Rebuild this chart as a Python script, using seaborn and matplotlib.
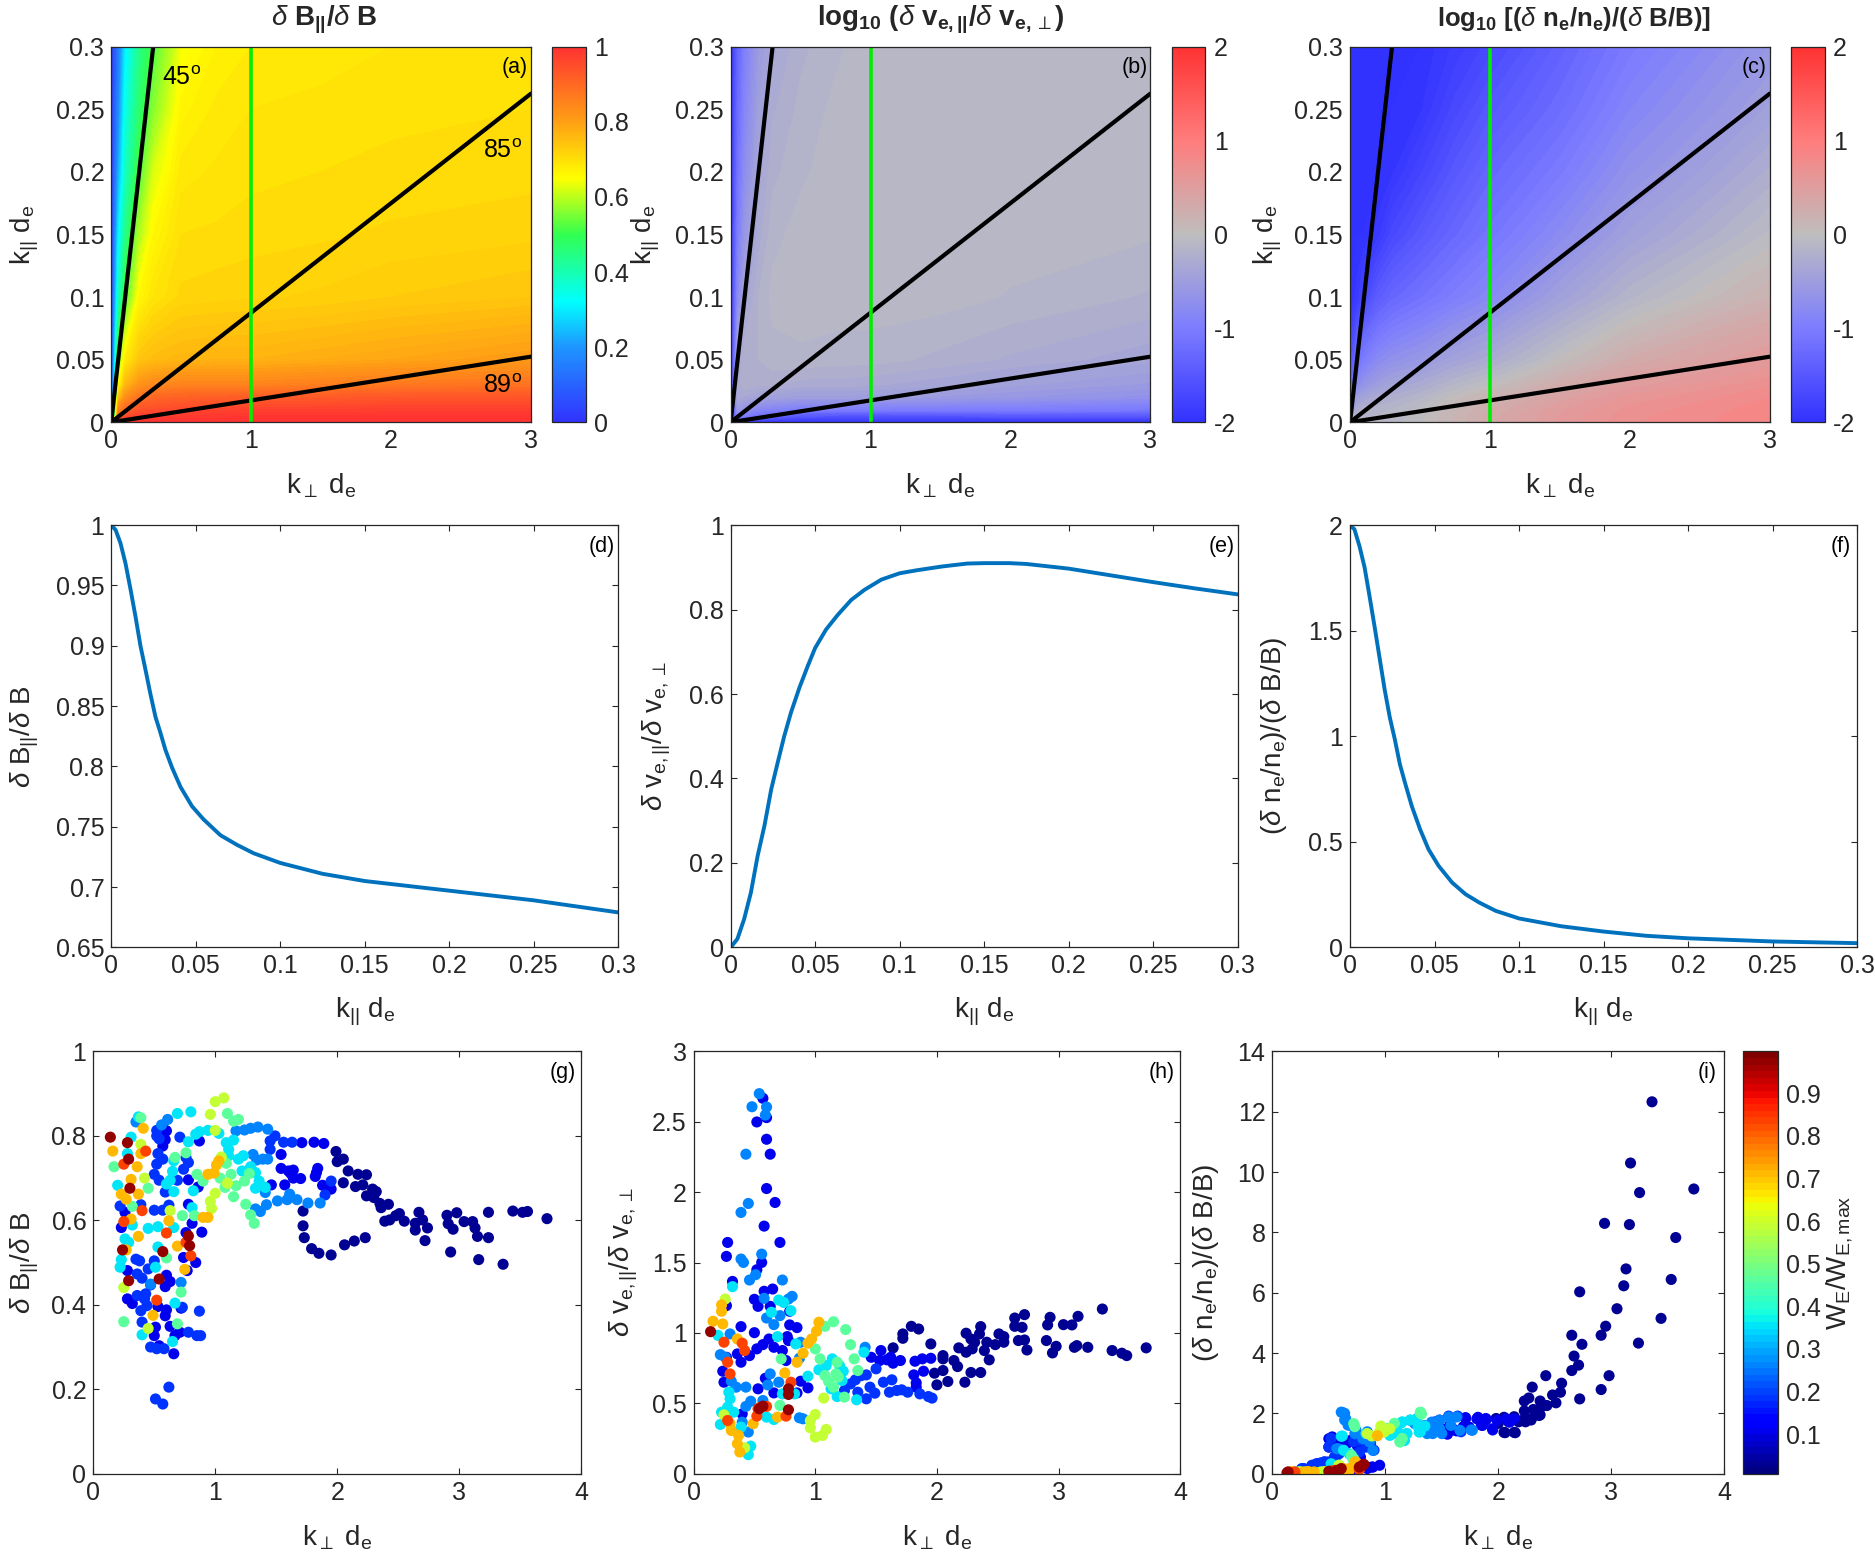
import numpy as np
import pandas as pd
import matplotlib
matplotlib.use("Agg")
import matplotlib.pyplot as plt
from matplotlib.colors import LinearSegmentedColormap, Normalize
from matplotlib.cm import ScalarMappable
import seaborn as sns

# ---------------- top row maps ---------------- #
kperp_grid = [0, .05, .1, .2, .3, .5, .75, 1, 1.5, 2, 3]
kpar_grid = [0, .005, .01, .02, .03, .05, .1, .15, .2, .25, .3]

dbpar_map = [
    [1, 1, 1, 1, 1, 1, 1, 1, 1, 1, 1],
    [.1, .90, .95, .97, .975, .98, .985, .99, .99, .99, .99],
    [.05, .85, .90, .94, .95, .96, .965, .97, .97, .975, .975],
    [.03, .74, .83, .88, .90, .91, .915, .92, .925, .93, .935],
    [.02, .65, .76, .82, .84, .85, .85, .85, .86, .87, .88],
    [.02, .55, .68, .74, .755, .765, .77, .77, .78, .79, .81],
    [.02, .38, .52, .66, .69, .713, .716, .718, .722, .73, .74],
    [.01, .30, .44, .59, .66, .70, .702, .705, .708, .712, .717],
    [.01, .22, .38, .52, .62, .685, .692, .697, .70, .703, .706],
    [.01, .17, .34, .47, .56, .665, .683, .69, .693, .697, .70],
    [.01, .14, .30, .44, .52, .64, .67, .68, .685, .69, .695],
]
dv_map = [
    [-2, -2, -2, -2, -2, -2, -2, -2, -2, -2, -2],
    [-2, -.9, -1.0, -1.2, -1.3, -1.5, -1.55, -1.6, -1.55, -1.5, -1.5],
    [-2, -.55, -.7, -.85, -.9, -1, -1, -1, -1, -1, -1.05],
    [-2, -.3, -.35, -.42, -.45, -.5, -.5, -.5, -.55, -.6, -.7],
    [-2, -.3, -.22, -.25, -.25, -.3, -.3, -.32, -.38, -.45, -.55],
    [-2, -.4, -.2, -.2, -.16, -.15, -.17, -.17, -.22, -.28, -.38],
    [-2, -.8, -.4, -.2, -.11, -.09, -.09, -.095, -.10, -.14, -.21],
    [-2, -1, -.6, -.3, -.16, -.10, -.09, -.09, -.09, -.10, -.125],
    [-2, -1.15, -.75, -.38, -.22, -.15, -.09, -.09, -.09, -.09, -.10],
    [-2, -1.25, -.87, -.47, -.28, -.18, -.115, -.09, -.09, -.09, -.09],
    [-2, -1.35, -.95, -.55, -.36, -.22, -.15, -.09, -.09, -.09, -.09],
]
dn_map = [
    [-.1, -.12, -.12, -.12, -.1, -.02, .15, .3, .55, .72, .85],
    [-.3, -.15, -.14, -.13, -.11, -.03, .14, .3, .54, .71, .85],
    [-.6, -.25, -.2, -.16, -.13, -.05, .13, .27, .52, .69, .84],
    [-1.0, -.5, -.4, -.3, -.25, -.15, .03, .16, .42, .62, .80],
    [-1.3, -.8, -.65, -.5, -.4, -.3, -.13, 0, .28, .5, .72],
    [-1.6, -1.2, -1.0, -.8, -.7, -.6, -.42, -.3, .02, .28, .55],
    [-2, -1.9, -1.7, -1.45, -1.3, -1.15, -.97, -.82, -.45, -.15, .2],
    [-2, -2, -2, -1.9, -1.7, -1.5, -1.28, -1.1, -.78, -.45, -.05],
    [-2, -2, -2, -2, -1.95, -1.75, -1.5, -1.3, -1.02, -.68, -.25],
    [-2, -2, -2, -2, -2, -1.95, -1.7, -1.5, -1.22, -.87, -.45],
    [-2, -2, -2, -2, -2, -2, -1.85, -1.7, -1.37, -1.03, -.6],
]

# guide lines on the maps: propagation angle in degrees and the k_perp cut
angles = [45, 85, 89]
cut_kperp = 1

# ---------------- middle row cuts at k_perp d_e = 1 ---------------- #
d_k = [0, .0026, .0055, .0085, .0114, .0144, .0173, .0203, .0232, .0262, .0291, .032, .036, .041, .0478, .0547, .0646,
       .0744, .0843, .1, .125, .15, .175, .2, .225, .25, .275, .3]
d_val = [1, .996, .985, .968, .947, .924, .90, .88, .86, .841, .828, .814, .799, .783, .767, .756, .743,
         .735, .728, .72, .711, .705, .701, .697, .693, .689, .684, .679]
e_k = [0, .004, .008, .012, .016, .02, .024, .0278, .0317, .0357, .0407, .0456, .05, .0565, .0635, .0714, .0793, .0892,
       .1, .11, .125, .14, .15, .165, .175, .2, .225, .25, .275, .3]
e_val = [0, .02, .067, .13, .217, .288, .374, .437, .50, .556, .615, .666, .709, .753, .788, .823, .847, .871,
         .886, .893, .902, .909, .91, .91, .908, .897, .881, .865, .85, .836]
f_k = [0, .0026, .0056, .0086, .0116, .0145, .0175, .0205, .0235, .0265, .0295, .0325, .0365, .0414, .0464, .0524, .0604,
       .0683, .0763, .0862, .1, .125, .15, .175, .2, .25, .3]
f_val = [2, 1.98, 1.90, 1.8, 1.66, 1.52, 1.37, 1.22, 1.09, .985, .867, .78, .67, .56, .465, .386, .307,
         .252, .213, .173, .137, .10, .075, .055, .043, .028, .02]

# ---------------- bottom row scatter, (k_perp d_e, value) per W band ---------------- #
w_bands = [.03, .11, .19, .27, .36, .47, .59, .71, .84, .97]

g_navy = [(3.72, .604), (3.56, .621), (3.52, .619), (3.44, .622), (3.24, .619), (3.24, .559), (3.36, .496), (3.16, .507),
          (3.15, .562), (3.13, .582), (3.11, .597), (3.04, .597), (2.98, .618), (2.90, .612), (2.91, .592), (2.95, .579),
          (2.93, .525), (2.72, .552), (2.74, .582), (2.70, .601), (2.67, .619), (2.64, .593), (2.64, .577), (2.55, .598),
          (2.51, .616), (2.48, .611), (2.43, .601), (2.39, .598), (2.42, .638), (2.36, .630), (2.35, .640), (2.32, .668),
          (2.29, .674), (2.30, .654), (2.24, .658), (2.24, .708), (2.17, .709), (2.21, .684), (2.15, .680), (2.05, .689),
          (2.09, .717), (2.05, .745), (2.0, .739), (1.99, .763), (2.23, .559), (2.14, .551), (2.06, .542), (1.95, .518),
          (1.85, .522), (1.79, .533), (1.73, .559), (1.72, .587), (1.72, .622)]
g_deep = [(1.89, .782), (1.81, .785), (1.71, .784), (1.95, .674), (1.88, .683), (1.84, .723), (1.83, .713), (1.82, .704),
          (1.70, .699), (1.64, .700), (1.62, .711), (1.64, .719), (1.60, .717), (1.54, .723), (1.54, .756), (1.57, .684),
          (1.46, .684), (.59, .813), (.60, .812), (.59, .791), (.57, .776), (.87, .788), (.78, .696), (.86, .679),
          (.78, .638), (.89, .572), (.84, .5), (.77, .481), (.60, .47), (.63, .455), (.59, .443), (.28, .414), (.32, .403),
          (.53, .396), (.60, .388), (.59, .374), (.72, .392), (.63, .349), (.51, .347), (.67, .327), (.71, .335), (.50, .327),
          (.54, .303), (.66, .284), (.23, .583), (.26, .619), (.28, .481), (.76, .571), (.74, .512), (.81, .593)]
g_blue = [(1.95, .693), (1.63, .785), (1.56, .785), (1.90, .66), (1.49, .8), (1.45, .768), (1.45, .788), (.22, .634),
          (.39, .637), (.50, .624), (.57, .624), (.35, .508), (.38, .504), (.45, .485), (.50, .504), (.36, .473), (.40, .463),
          (.47, .447), (.43, .426), (.36, .422), (.42, .414), (.44, .398), (.39, .386), (.40, .359), (.47, .30), (.52, .296),
          (.58, .296), (.51, .177), (.57, .165), (.62, .205), (.87, .385), (.88, .327), (.85, .327), (.78, .335), (.73, .394),
          (.62, .636), (.71, .797), (.52, .813), (.52, .8), (.54, .793), (.53, .758), (.57, .745), (.52, .733), (.50, .709),
          (.54, .695), (.59, .667), (.69, .695), (.74, .721), (.76, .749), (.78, .737)]
g_light = [(1.86, .641), (1.76, .641), (1.67, .649), (1.61, .662), (1.59, .649), (1.51, .646), (1.42, .637), (1.37, .621),
           (1.33, .627), (1.41, .666), (1.43, .745), (1.39, .745), (1.34, .743), (1.31, .756), (1.43, .816), (1.35, .821),
           (1.29, .818), (1.24, .814), (1.17, .812), (.56, .826), (.61, .839), (.72, .453), (.47, .449), (.35, .833)]
g_cyan = [(1.41, .678), (1.33, .676), (1.36, .693), (1.33, .713), (1.29, .727), (1.22, .717), (1.19, .745), (1.23, .753),
          (1.15, .79), (1.09, .784), (1.11, .768), (1.11, .753), (1.03, .806), (.94, .813), (.87, .81), (.84, .804),
          (.78, .786), (.80, .857), (.69, .853), (.20, .683), (.28, .758), (.31, .797), (.37, .845), (.26, .556), (.29, .548),
          (.32, .589), (.23, .507), (.22, .489), (.40, .329), (.65, .313), (.67, .404), (.51, .489), (.53, .537), (.45, .581),
          (.53, .585), (.66, .583), (.81, .63), (.82, .67), (.66, .741), (.65, .716), (.60, .686), (.63, .695), (.66, .668)]
g_green = [(1.10, .853), (1.15, .835), (1.19, .839), (1.32, .593), (1.29, .613), (1.25, .638), (1.15, .656), (1.08, .678),
           (1.17, .682), (1.24, .693), (1.28, .711), (1.13, .709), (1.09, .735), (1.04, .7), (.85, .709), (.90, .693),
           (.17, .727), (.25, .36), (.72, .43), (.39, .843), (.45, .676), (.32, .633), (.73, .611), (.83, .611), (.60, .511),
           (.69, .355), (.76, .76), (.67, .749)]
g_yellow = [(1.07, .89), (1.0, .881), (.96, .851), (1.0, .664), (.96, .645), (.97, .628), (1.05, .75), (1.10, .688),
            (1.0, .813), (.39, .78), (.42, .7), (.63, .623), (.25, .441), (.45, .344)]
g_orange = [(.94, .709), (.99, .712), (1.01, .731), (1.03, .741), (.94, .607), (.90, .607), (.36, .727), (.37, .662),
            (.37, .562), (.39, .758), (.41, .818), (.27, .53), (.49, .375), (.69, .539), (.75, .484), (.16, .764), (.23, .662),
            (.27, .65), (.31, .697), (.31, .603), (.62, .599)]
g_red = [(.80, .516), (.76, .548), (.60, .57), (.52, .411), (.40, .623), (.25, .597), (.25, .733), (.43, .764)]
g_dark = [(.14, .797), (.30, .676), (.24, .53), (.57, .526), (.78, .563), (.79, .54), (.54, .461), (.29, .457), (.29, .745),
          (.28, .784)]

h_navy = [(3.72, .894), (3.56, .839), (3.52, .856), (3.44, .875), (3.36, 1.17), (3.24, .898), (3.16, 1.118), (3.15, .91),
          (3.13, .898), (3.11, 1.057), (3.04, 1.059), (2.98, .905), (2.95, .858), (2.93, 1.111), (2.91, 1.057), (2.90, .946),
          (2.74, .879), (2.72, 1.13), (2.72, .95), (2.70, 1.04), (2.67, .946), (2.64, 1.106), (2.64, 1.047), (2.55, .934),
          (2.55, .974), (2.51, .993), (2.48, .917), (2.43, .809), (2.41, .934), (2.39, .875), (2.36, 1.045), (2.35, .993),
          (2.36, .719), (2.28, .719), (2.23, .65), (2.31, .934), (2.28, .957), (2.24, .998), (2.24, .863), (2.29, .887),
          (2.18, .894), (2.17, .761), (2.14, .804), (2.09, .655), (2.05, .816), (2.05, .839), (2.05, .733), (2.0, .631),
          (1.98, .714), (1.95, .922), (1.85, 1.028), (1.79, 1.047), (1.72, .993), (1.72, .962), (1.64, .894)]
h_deep = [(1.89, .728), (1.83, .645), (1.81, .702), (1.83, .615), (1.95, .82), (1.88, .816), (1.82, .799), (1.70, .804),
          (1.64, .785), (1.62, .827), (1.59, .809), (1.54, .875), (1.53, .804), (1.46, .827), (.57, 2.667), (.60, 2.53),
          (.52, 2.499), (.60, 2.376), (.63, 2.27), (.60, 2.026), (.67, 1.927), (.58, 1.759), (.71, 1.643), (.28, 1.643),
          (.27, 1.544), (.56, 1.501), (.52, 1.449), (.32, 1.366), (.65, 1.312), (.58, 1.296), (.50, 1.239), (.53, 1.189),
          (.63, 1.189), (.27, 1.194), (.79, 1.154), (.79, 1.057), (.85, 1.038), (.39, 1.045), (.50, 1.002), (.77, .974),
          (.78, .946), (.62, .957), (.57, .917), (.66, .898), (.73, .875), (.52, .887), (.46, .839), (.36, .851), (.27, .827),
          (.39, .792), (.76, .804), (.24, .728), (.25, .65), (.59, .678), (.53, .603), (.94, .61), (.88, .657), (.85, .574),
          (.66, .574), (.40, .425)]
h_blue = [(1.50, .745), (1.71, .596), (1.63, .667), (1.96, .537), (1.93, .548), (1.86, .567), (1.76, .579), (1.67, .591),
          (1.61, .579), (1.56, .65), (1.49, .572), (1.45, .615), (1.42, .702), (1.38, .697), (1.33, .667), (1.29, .638),
          (1.24, .591), (1.35, .579), (1.42, .532)]
h_light = [(1.41, .898), (.54, 2.70), (.48, 2.607), (.60, 2.605), (.59, 2.548), (.43, 2.27), (.39, 1.856), (.45, 1.92),
           (.39, 1.525), (.41, 1.501), (.46, 1.376), (.51, 1.414), (.56, 1.56), (.58, 1.246), (.60, 1.106), (.66, 1.059),
           (.73, 1.376), (.71, 1.123), (.81, 1.26), (.78, 1.241), (.22, .846), (.26, .827), (.30, .993), (.31, .657),
           (.35, .615), (.43, .615), (.61, .631), (.63, .709), (.70, .65), (.87, .397), (.90, .39), (.87, .82), (.88, .934),
           (.40, .366), (.43, .478), (.47, .515), (.57, .52), (.45, .296)]
h_cyan = [(1.34, .525), (1.18, .548), (1.13, .603), (1.22, .662), (1.23, .728), (1.20, .768), (1.14, .816), (1.09, .768),
          (1.03, .738), (.94, .693), (1.40, .863), (.20, .983), (.32, 1.329), (.29, .579), (.30, .532), (.28, .473), (.23, .437),
          (.22, .35), (.33, .437), (.45, .135), (.47, .196), (.69, .974), (.64, 1.147), (.70, 1.234), (.74, 1.217), (.80, 1.158),
          (.39, .331), (.66, .385), (.60, .402), (.83, .567), (.73, .567), (.84, .922)]
h_green = [(1.15, 1.08), (1.25, 1.024), (1.29, .917), (1.32, .816), (1.18, .792), (1.08, .697), (1.11, .655), (1.15, .615),
           (1.24, .544), (1.08, 1.047), (1.04, .816), (1.0, .887), (.72, .816), (1.35, .733), (1.17, .709), (1.19, .686),
           (.71, .485)]
h_yellow = [(1.07, .537), (1.0, .421), (.96, .378), (.96, .326), (1.09, .314), (1.06, .272), (1.0, .26), (.42, .184), (.25, .418),
            (.26, 1.241)]
h_orange = [(1.03, 1.076), (1.01, 1.012), (.97, .957), (.94, .927), (.90, .856), (.85, .792), (.75, .716), (.69, .402),
            (.49, .355), (.37, .272), (.36, .213), (.38, .154), (.31, .307), (.30, .355), (.23, 1.199), (.23, 1.154),
            (.24, 1.064), (.16, 1.083), (.36, .957)]
h_red = [(.25, .934), (.40, .927), (.42, .875), (.28, .792), (.30, .709), (.28, .378), (.52, .409), (.76, .409), (.80, .65),
         (.53, .461), (.55, .473), (.60, .478)]
h_dark = [(.14, 1.009), (.78, .563), (.78, .603), (.78, .454), (.57, .48), (.54, .461)]

i_navy = [(3.36, 12.33), (3.17, 10.3), (3.25, 9.32), (3.73, 9.44), (2.94, 8.3), (3.16, 8.26), (3.57, 7.83), (3.13, 6.79),
          (3.11, 6.23), (2.72, 6.03), (3.53, 6.44), (3.05, 5.47), (3.44, 5.15), (2.95, 4.89), (2.91, 4.59), (2.65, 4.59),
          (2.74, 4.29), (3.24, 4.33), (2.67, 3.9), (2.71, 3.6), (2.65, 3.42), (2.98, 3.25), (2.42, 3.25), (2.56, 3.0),
          (2.91, 2.79), (2.30, 2.87), (2.55, 2.7), (2.48, 2.61), (2.27, 2.51), (2.72, 2.48), (2.23, 2.41), (2.37, 2.41),
          (2.51, 2.35), (2.43, 2.26), (2.38, 2.22), (2.23, 2.08), (2.31, 2.13), (2.37, 1.95), (2.29, 1.78), (2.14, 1.89),
          (2.18, 1.72), (2.24, 1.72), (2.14, 1.37), (2.05, 1.37), (2.09, 1.72), (2.05, 1.87), (1.98, 1.83), (2.0, 1.67),
          (2.06, 1.36), (2.15, 1.36), (2.21, 1.77), (2.29, 1.82), (2.36, 1.93)]
i_deep = [(1.89, 1.83), (1.95, 1.45), (1.82, 1.87), (1.85, 1.61), (1.71, 1.83), (1.69, 1.56), (1.63, 1.42), (1.55, 1.31),
          (1.51, 1.45), (.95, .28), (.88, .22), (.79, .33), (.84, .17), (.66, .06), (.73, .06), (1.71, 1.86), (1.81, 1.82),
          (1.89, 1.77), (1.99, 1.77), (2.07, 1.82), (2.14, 1.82), (1.86, 1.6), (1.95, 1.49), (1.74, 1.55), (1.62, 1.44),
          (1.54, 1.33), (1.57, 1.6), (1.50, 1.49), (2.1, 1.71), (.5, 1.16), (.53, 1.22), (.5, .88), (.55, .88), (.69, 1.1),
          (.78, .83), (.78, .55), (.75, .94), (.66, 1.0), (.6, 1.16), (.89, .22), (.84, .22)]
i_blue = [(1.64, 1.91), (1.56, 1.91), (1.48, 1.78), (1.44, 1.72), (1.67, 1.39), (.50, .89), (.52, 1.17), (.55, .56), (.46, .39),
          (.39, .33), (.77, 1.11), (.72, 1.06), (.77, .72), (.90, .78), (.26, .17), (.37, .28), (.43, .36), (.4, .33), (.46, .39),
          (.35, .28), (.49, .39), (.56, .55), (.59, .66), (.28, .17), (.87, 1.0), (.83, .88)]
i_light = [(1.76, 1.45), (1.42, 1.39), (1.37, 1.33), (.62, 2.03), (.64, 2.0), (.64, 1.78), (.67, 1.61), (.73, 1.33), (.81, 1.17),
           (.84, 1.39), (.57, .83), (1.48, 1.5), (1.58, 1.6), (1.56, 1.88), (1.63, 1.88), (1.48, 1.77), (1.41, 1.71), (1.35, 1.6),
           (1.26, 1.66), (1.22, 1.77), (1.5, 1.33), (1.42, 1.33), (1.77, 1.44), (1.66, 1.44), (.61, 2.04), (.65, 1.82), (.69, 1.6),
           (.74, 1.44), (.89, .77), (.86, 1.05), (.80, 1.16), (.58, .83), (.63, .77)]
i_cyan = [(1.31, 1.39), (1.28, 1.83), (1.22, 1.78), (1.29, 1.56), (1.35, 1.58), (1.15, 1.72), (1.11, 1.39), (1.06, 1.31),
          (1.19, 1.33), (.62, 1.25), (.63, .78), (.35, .03), (.52, .33), (.22, .06), (.30, .06), (1.17, 1.1), (1.11, 1.33),
          (1.14, 1.68), (1.19, 1.33), (1.04, 1.27), (1.3, 1.38), (.61, 1.24), (.83, 1.33), (.68, .66), (.2, .05)]
i_green = [(1.31, 2.02), (1.32, 1.98), (1.13, 1.06), (1.15, 1.17), (1.08, 1.67), (1.02, 1.5), (.73, 1.56), (.70, .61), (.72, .5),
           (1.31, 2.04), (1.13, 1.05), (.72, 1.66), (.71, .5), (.59, .28)]
i_yellow = [(.96, 1.58), (.95, 1.39), (.88, 1.25), (.84, 1.33), (.25, .06), (.43, .06), (.46, .07), (.59, .28), (1.04, 1.49),
            (.99, 1.38), (.24, .06), (.47, .03)]
i_orange = [(.93, 1.26), (.28, .06), (.32, .07), (.37, .06), (.68, .17), (.73, .39), (.17, .07), (.31, .06), (.5, .06), (.63, .17),
            (.68, .11), (.74, .39)]
i_red = [(.2, .06), (.55, .11), (.77, .17), (.52, .09), (.55, .06), (.77, .13)]
i_dark = [(.14, .06), (.57, .11), (.61, .17), (.81, .31), (.50, .08), (.77, .22), (.13, .03), (.59, .11), (.8, .28)]

g_bands = [g_navy, g_deep, g_blue, g_light, g_cyan, g_green, g_yellow, g_orange, g_red, g_dark]
h_bands = [h_navy, h_deep, h_blue, h_light, h_cyan, h_green, h_yellow, h_orange, h_red, h_dark]
i_bands = [i_navy, i_deep, i_blue, i_light, i_cyan, i_green, i_yellow, i_orange, i_red, i_dark]

# ---------------- style ---------------- #
sns.set_theme(style="ticks")
plt.rcParams["font.family"] = ["Liberation Sans", "DejaVu Sans"]
plt.rcParams["mathtext.fontset"] = "custom"
plt.rcParams["mathtext.rm"] = "Liberation Sans"
plt.rcParams["mathtext.it"] = "Liberation Sans:italic"
plt.rcParams["mathtext.bf"] = "Liberation Sans:bold"
plt.rcParams["mathtext.fallback"] = "cm"

DARK = "#262626"
TICK_SIZE = 18
LABEL_SIZE = 20
TAG_SIZE = 15.5

jet_soft = LinearSegmentedColormap.from_list("jet_soft", [
    (0, (50/255, 50/255, 1)), (.2, (30/255, 150/255, 1)), (.32, (0, 1, 1)), (.5, (50/255, 1, 80/255)),
    (.65, (1, 1, 0)), (.8, (1, 160/255, 20/255)), (1, (1, 50/255, 50/255))])
blue_red = LinearSegmentedColormap.from_list("blue_red", [
    (0, (50/255, 50/255, 1)), (.25, (125/255, 125/255, 1)), (.5, (190/255, 190/255, 190/255)),
    (.75, (1, 125/255, 125/255)), (1, (1, 50/255, 50/255))])
jet64 = plt.get_cmap("jet", 64)

W, H = 1568, 1310


def box(x0, x1, y0, y1):
    # pixel box of the shrunk picture to figure fractions
    return [x0 / W, 1 - y1 / H, (x1 - x0) / W, (y1 - y0) / H]


def style_axes(ax):
    ax.tick_params(direction="in", top=True, right=True, length=4, width=.8, color=DARK,
                   labelsize=TICK_SIZE, labelcolor=DARK, pad=5)
    for s in ax.spines.values():
        s.set_visible(True)
        s.set_linewidth(.9)
        s.set_color(DARK)


def style_cbar(cb, ticks, labels):
    cb.set_ticks(ticks)
    cb.set_ticklabels(labels)
    cb.minorticks_off()
    cb.ax.tick_params(direction="in", length=4, width=.8, color=DARK, labelsize=TICK_SIZE, labelcolor=DARK, pad=6)
    cb.outline.set_linewidth(.9)
    cb.outline.set_edgecolor(DARK)


def place_labels(ax, xlabel, ylabel, label_x, label_y):
    # label spots in pixels of the shrunk picture, the gaps differ from panel to panel
    ax.set_xlabel(xlabel, fontsize=LABEL_SIZE, color=DARK)
    ax.set_ylabel(ylabel, fontsize=LABEL_SIZE, color=DARK)
    pos = ax.get_position()
    ax.yaxis.set_label_coords(label_x / W, pos.y0 + pos.height / 2, transform=fig.transFigure)
    ax.xaxis.set_label_coords(pos.x0 + pos.width / 2, 1 - label_y / H, transform=fig.transFigure)


fig = plt.figure(figsize=(18.75, 15.67), dpi=100)

k_perp_label = r"k$_{\perp}$ d$_{\rm e}$"
k_par_label = r"k$_{||}$ d$_{\rm e}$"

# ---------------- VISUALIZATIONS ---------------- #

# top row maps
maps = [
    (dbpar_map, jet_soft, 0, 1, 101, [0, .2, .4, .6, .8, 1], ["0", "0.2", "0.4", "0.6", "0.8", "1"],
     r"$\delta$ $\mathbf{B_{||}/}$$\delta$ $\mathbf{B}$", "(a)", 93, 34, .507, 20),
    (dv_map, blue_red, -2, 2, 61, [-2, -1, 0, 1, 2], ["-2", "-1", "0", "1", "2"],
     r"$\mathbf{log_{10}}$ $\mathbf{(}$$\delta$ $\mathbf{v_{e,||}/}$$\delta$ $\mathbf{v}_{\mathbf{e,}\perp}\mathbf{)}$", "(b)", 611, 554, .5, 20),
    (dn_map, blue_red, -2, 2, 61, [-2, -1, 0, 1, 2], ["-2", "-1", "0", "1", "2"],
     r"$\mathbf{log_{10}}$ $\mathbf{[(}$$\delta$ $\mathbf{n_e/n_e)/(}$$\delta$ $\mathbf{B/B)]}$", "(c)", 1129, 1074, .533, 18.5),
]
for n, (field, cmap, vmin, vmax, n_levels, cticks, clabels, title, tag, left, label_x, title_x, title_size) in enumerate(maps):
    ax = fig.add_axes(box(left, left + 351, 39, 353))
    levels = np.linspace(vmin, vmax, n_levels)
    ax.contourf(kperp_grid, kpar_grid, field, levels=levels, cmap=cmap, vmin=vmin, vmax=vmax, extend="both",
                antialiased=False)
    for a in angles:
        line_x = np.array([0, 3.0])
        line_y = line_x / np.tan(np.radians(a))
        sns.lineplot(x=line_x, y=line_y, ax=ax, color="black", linewidth=3, estimator=None, sort=False)
    sns.lineplot(x=[cut_kperp, cut_kperp], y=[0, .3], ax=ax, color="#00EE00", linewidth=2.6, estimator=None, sort=False)
    ax.set_xlim(0, 3)
    ax.set_ylim(0, .3)
    ax.set_xticks([0, 1, 2, 3], ["0", "1", "2", "3"])
    ax.set_yticks([0, .05, .1, .15, .2, .25, .3], ["0", "0.05", "0.1", "0.15", "0.2", "0.25", "0.3"])
    place_labels(ax, k_perp_label, k_par_label, label_x, 394)
    ax.set_title(title, fontsize=title_size, color=DARK, pad=15, fontweight="bold", x=title_x)
    ax.text(.962, .945, tag, transform=ax.transAxes, fontsize=TAG_SIZE, ha="center", va="center", color="black")
    style_axes(ax)
    if n == 0:
        ax.text(.36, .275, r"45$^{\rm o}$", fontsize=18, ha="left", va="center", color="black")
        ax.text(2.66, .217, r"85$^{\rm o}$", fontsize=18, ha="left", va="center", color="black")
        ax.text(2.66, .029, r"89$^{\rm o}$", fontsize=18, ha="left", va="center", color="black")
    cax = fig.add_axes(box(left + 369, left + 397, 39, 353))
    cb = fig.colorbar(ScalarMappable(Normalize(vmin, vmax), cmap), cax=cax)
    style_cbar(cb, cticks, clabels)

# middle row cuts
curve_color = "#0072BD"
cuts = [
    (d_k, d_val, 93, (.65, 1), [.65, .7, .75, .8, .85, .9, .95, 1], ["0.65", "0.7", "0.75", "0.8", "0.85", "0.9", "0.95", "1"],
     r"$\delta$ B$_{||}$/$\delta$ B", "(d)", 34),
    (e_k, e_val, 611, (0, 1), [0, .2, .4, .6, .8, 1], ["0", "0.2", "0.4", "0.6", "0.8", "1"],
     r"$\delta$ v$_{\rm e,||}$/$\delta$ v$_{\rm e,\perp}$", "(e)", 563),
    (f_k, f_val, 1129, (0, 2), [0, .5, 1, 1.5, 2], ["0", "0.5", "1", "1.5", "2"],
     r"($\delta$ n$_{\rm e}$/n$_{\rm e}$)/($\delta$ B/B)", "(f)", 1078),
]
for k, val, left, ylim, yticks, ylabels, ylabel, tag, label_x in cuts:
    ax = fig.add_axes(box(left, left + 424, 439, 792))
    sns.lineplot(x=k, y=val, ax=ax, color=curve_color, linewidth=2.8, estimator=None, sort=False)
    ax.set_xlim(0, .3)
    ax.set_ylim(*ylim)
    ax.set_xticks([0, .05, .1, .15, .2, .25, .3], ["0", "0.05", "0.1", "0.15", "0.2", "0.25", "0.3"])
    ax.set_yticks(yticks, ylabels)
    place_labels(ax, k_par_label, ylabel, label_x, 832)
    ax.text(.968, .95, tag, transform=ax.transAxes, fontsize=TAG_SIZE, ha="center", va="center", color="black")
    style_axes(ax)

# bottom row scatter
w_norm = Normalize(.007, .998)
bottom = [
    (g_bands, 78, 486, (0, 1), [0, .2, .4, .6, .8, 1], ["0", "0.2", "0.4", "0.6", "0.8", "1"],
     r"$\delta$ B$_{||}$/$\delta$ B", "(g)", 34),
    (h_bands, 580, 987, (0, 3), [0, .5, 1, 1.5, 2, 2.5, 3], ["0", "0.5", "1", "1.5", "2", "2.5", "3"],
     r"$\delta$ v$_{\rm e,||}$/$\delta$ v$_{\rm e,\perp}$", "(h)", 535),
    (i_bands, 1064, 1442, (0, 14), [0, 2, 4, 6, 8, 10, 12, 14], ["0", "2", "4", "6", "8", "10", "12", "14"],
     r"($\delta$ n$_{\rm e}$/n$_{\rm e}$)/($\delta$ B/B)", "(i)", 1021),
]
for bands, x0, x1, ylim, yticks, ylabels, ylabel, tag, label_x in bottom:
    rows = [(k, v, w) for band, w in zip(bands, w_bands) for k, v in band]
    df = pd.DataFrame(rows, columns=["k", "v", "w"])
    ax = fig.add_axes(box(x0, x1, 879, 1232))
    sns.scatterplot(data=df, x="k", y="v", hue="w", palette=jet64, hue_norm=w_norm, s=64, linewidth=0,
                    legend=False, ax=ax)
    ax.set_xlim(0, 4)
    ax.set_ylim(*ylim)
    ax.set_xticks([0, 1, 2, 3, 4], ["0", "1", "2", "3", "4"])
    ax.set_yticks(yticks, ylabels)
    place_labels(ax, k_perp_label, ylabel, label_x, 1274)
    ax.text(.962, .95, tag, transform=ax.transAxes, fontsize=TAG_SIZE, ha="center", va="center", color="black")
    style_axes(ax)

cax = fig.add_axes(box(1458, 1487, 879, 1232))
cb = fig.colorbar(ScalarMappable(w_norm, jet64), cax=cax)
style_cbar(cb, [.1, .2, .3, .4, .5, .6, .7, .8, .9], ["0.1", "0.2", "0.3", "0.4", "0.5", "0.6", "0.7", "0.8", "0.9"])
cb.set_label(r"W$_{\rm E}$/W$_{\rm E,max}$", fontsize=LABEL_SIZE, color=DARK, labelpad=2)

plt.savefig("out.png", dpi=100)
